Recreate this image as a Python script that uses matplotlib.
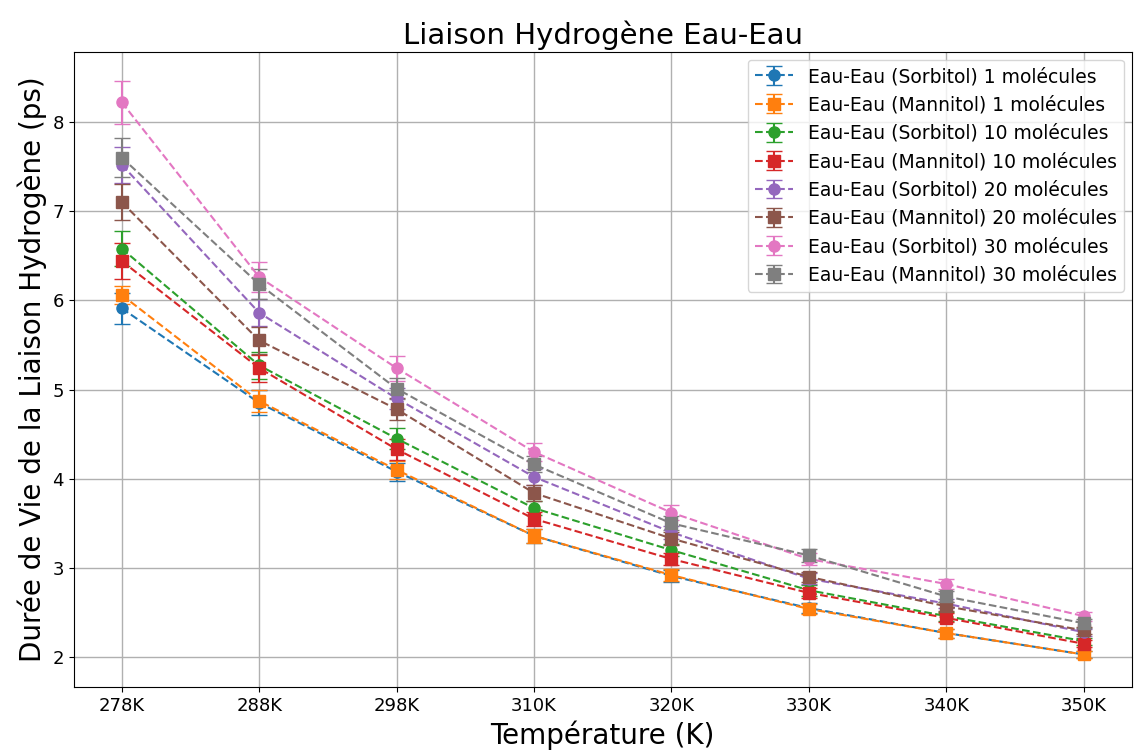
import matplotlib
matplotlib.use("Agg")
import matplotlib.pyplot as plt
import numpy as np

temperatures = ["278K", "288K", "298K", "310K", "320K", "330K", "340K", "350K"]

labels = [
    "Eau-Eau (Sorbitol) 1 molécules",
    "Eau-Eau (Mannitol) 1 molécules",
    "Eau-Eau (Sorbitol) 10 molécules",
    "Eau-Eau (Mannitol) 10 molécules",
    "Eau-Eau (Sorbitol) 20 molécules",
    "Eau-Eau (Mannitol) 20 molécules",
    "Eau-Eau (Sorbitol) 30 molécules",
    "Eau-Eau (Mannitol) 30 molécules",
]

sorbitol_1 = [5.91, 4.85, 4.08, 3.36, 2.91, 2.55, 2.27, 2.03]
mannitol_1 = [6.06, 4.87, 4.10, 3.36, 2.92, 2.54, 2.27, 2.03]
sorbitol_10 = [6.58, 5.27, 4.45, 3.67, 3.20, 2.75, 2.46, 2.18]
mannitol_10 = [6.44, 5.24, 4.33, 3.55, 3.10, 2.72, 2.44, 2.15]
sorbitol_20 = [7.52, 5.86, 4.90, 4.02, 3.40, 2.88, 2.60, 2.28]
mannitol_20 = [7.10, 5.55, 4.78, 3.84, 3.33, 2.90, 2.57, 2.30]
sorbitol_30 = [8.22, 6.26, 5.24, 4.30, 3.62, 3.10, 2.82, 2.46]
mannitol_30 = [7.60, 6.18, 5.01, 4.16, 3.50, 3.14, 2.68, 2.38]

err_sorbitol_1 = [0.17, 0.14, 0.10, 0.08, 0.07, 0.06, 0.05, 0.04]
err_mannitol_1 = [0.10, 0.12, 0.10, 0.08, 0.07, 0.06, 0.05, 0.04]
err_sorbitol_10 = [0.20, 0.15, 0.12, 0.08, 0.07, 0.06, 0.05, 0.04]
err_mannitol_10 = [0.20, 0.15, 0.12, 0.08, 0.07, 0.06, 0.05, 0.04]
err_sorbitol_20 = [0.20, 0.15, 0.12, 0.09, 0.07, 0.06, 0.05, 0.04]
err_mannitol_20 = [0.20, 0.15, 0.12, 0.09, 0.07, 0.06, 0.05, 0.04]
err_sorbitol_30 = [0.24, 0.17, 0.14, 0.10, 0.08, 0.07, 0.06, 0.05]
err_mannitol_30 = [0.22, 0.17, 0.12, 0.09, 0.08, 0.07, 0.06, 0.05]

series = [sorbitol_1, mannitol_1, sorbitol_10, mannitol_10,
          sorbitol_20, mannitol_20, sorbitol_30, mannitol_30]
errors = [err_sorbitol_1, err_mannitol_1, err_sorbitol_10, err_mannitol_10,
          err_sorbitol_20, err_mannitol_20, err_sorbitol_30, err_mannitol_30]
markers = ["o", "s", "o", "s", "o", "s", "o", "s"]
colors = ["#1f77b4", "#ff7f0e", "#2ca02c", "#d62728",
          "#9467bd", "#8c564b", "#e377c2", "#7f7f7f"]

fig = plt.figure(figsize=(11.34, 7.54), dpi=100)
ax = fig.add_axes([0.065, 0.089, 0.933, 0.842])

x = np.arange(len(temperatures))
for vals, errs, m, c, lab in zip(series, errors, markers, colors, labels):
    ax.errorbar(x, vals, yerr=errs, fmt=m, linestyle="--", color=c,
                markersize=8, capsize=6, linewidth=1.5, label=lab)

ax.set_xticks(x)
ax.set_xticklabels(temperatures)
ax.tick_params(axis="both", labelsize=13)
ax.grid(True, color="#b0b0b0", linewidth=1.0)
ax.set_xlabel("Température (K)", fontsize=20)
ax.set_ylabel("Durée de Vie de la Liaison Hydrogène (ps)", fontsize=20)
ax.set_title("Liaison Hydrogène Eau-Eau", fontsize=21)
ax.legend(loc="upper right", fontsize=13.5, borderaxespad=0.4)

fig.savefig("out.png", dpi=100)
